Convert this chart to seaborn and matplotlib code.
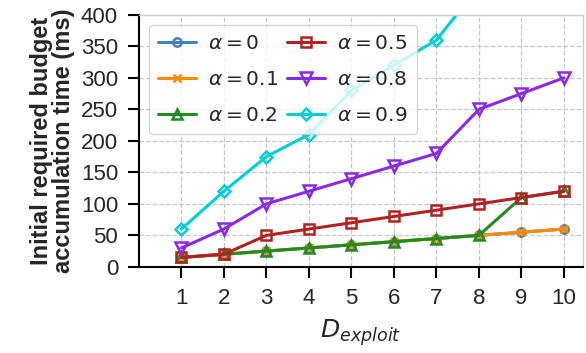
import matplotlib
matplotlib.use("Agg")
import matplotlib.pyplot as plt
import seaborn as sns
import pandas as pd

d_exploit = [1, 2, 3, 4, 5, 6, 7, 8, 9, 10]
alpha_labels = [r"$\alpha = 0$", r"$\alpha = 0.1$", r"$\alpha = 0.2$",
                r"$\alpha = 0.5$", r"$\alpha = 0.8$", r"$\alpha = 0.9$"]
a00 = [15, 20, 25, 30, 35, 40, 45, 50, 55, 60]
a01 = [15, 20, 25, 30, 35, 40, 45, 50, 55, 60]
a02 = [15, 20, 25, 30, 35, 40, 45, 50, 110, 120]
a05 = [15, 20, 50, 60, 70, 80, 90, 100, 110, 120]
a08 = [30, 60, 100, 120, 140, 160, 180, 250, 275, 300]
a09 = [60, 120, 175, 210, 280, 320, 360, 445, 520, 600]

series = [a00, a01, a02, a05, a08, a09]
colors = ["#4682b4", "#ff8c00", "#228b22", "#b22222", "#8a2be2", "#00ced1"]
markers = ["o", "x", "^", "s", "v", "D"]
msizes = [6, 6, 7, 7, 8, 6.5]

sns.set_theme(style="ticks")
plt.rcParams["font.family"] = ["Liberation Sans", "DejaVu Sans"]
plt.rcParams["mathtext.fontset"] = "dejavusans"

fig = plt.figure(figsize=(5.86, 3.53), dpi=100)
ax = fig.add_axes([0.237, 0.244, 0.758, 0.714])

for vals, lab, c, m, ms in zip(series, alpha_labels, colors, markers, msizes):
    df = pd.DataFrame({"D": d_exploit, "t": vals})
    sns.lineplot(data=df, x="D", y="t", ax=ax, color=c, marker=m,
                 markersize=ms, markerfacecolor="none", markeredgecolor=c,
                 markeredgewidth=1.8, linewidth=2.2, label=lab)

ax.set_xlim(0, 10.45)
ax.set_ylim(0, 400)
ax.set_xticks(d_exploit)
ax.set_yticks(range(0, 401, 50))
ax.grid(True, linestyle="--", color="#c8c8c8", linewidth=0.9)
ax.set_axisbelow(True)

for side in ["left", "bottom"]:
    ax.spines[side].set_color("black")
    ax.spines[side].set_linewidth(1.5)
for side in ["top", "right"]:
    ax.spines[side].set_visible(True)
    ax.spines[side].set_color("#cccccc")
    ax.spines[side].set_linewidth(1.0)

ax.tick_params(axis="both", labelsize=16, length=8, width=1.5,
               color="black", direction="out", pad=7)

ax.set_xlabel(r"$D_{exploit}$", fontsize=18, labelpad=6)
ax.set_ylabel("Initial required budget\naccumulation time (ms)",
              fontsize=17, fontweight="bold", labelpad=4, linespacing=0.95)

ax.legend(loc="upper left", ncol=2, fontsize=14.5, framealpha=0.8,
          labelspacing=0.85, columnspacing=0.4, handlelength=1.9,
          handletextpad=0.6, borderpad=0.45, fancybox=True)

fig.savefig("out.png", dpi=100)
